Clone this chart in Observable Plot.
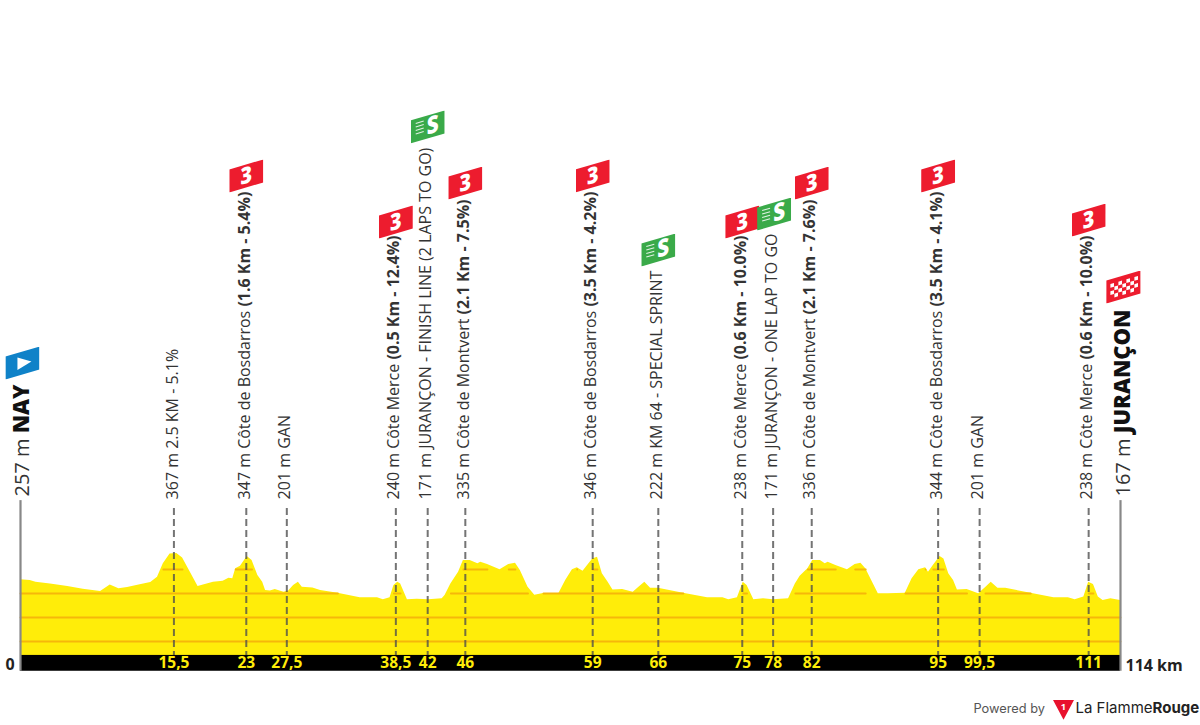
<!DOCTYPE html>
<html>
<head>
<meta charset="utf-8">
<style>
html,body{margin:0;padding:0;background:#fff;overflow:hidden}
svg{display:block}
</style>
<script src="https://cdn.jsdelivr.net/npm/d3@7"></script>
<script src="https://cdn.jsdelivr.net/npm/@observablehq/plot@0.6"></script>
</head>
<body>
<div id="chart"></div>
<script>
const profileKm = [0,1.0,1.6,3.1,4.9,6.5,8.3,9.3,10.2,11.1,12.4,13.5,14.2,14.8,15.5,16.2,16.8,17.6,18.4,20.0,21.0,21.6,22.0,22.3,22.8,23.5,24.0,24.6,25.1,25.4,25.9,26.4,27.3,27.8,28.3,28.8,29.2,30.3,31.1,32.9,35.2,37.0,37.6,38.3,38.7,39.1,39.4,40.1,41.1,42.3,43.7,44.0,44.6,45.4,45.9,46.6,47.4,47.7,48.4,49.7,50.6,51.3,51.8,52.6,53.3,54.2,55.8,56.5,57.2,57.7,58.3,59.3,59.8,60.3,60.9,61.4,62.4,63.5,64.0,64.7,65.3,66.1,68.7,71.2,72.8,73.4,74.3,74.9,75.3,76.0,77.0,78.0,79.6,80.3,80.8,81.6,82.1,82.9,83.4,83.7,84.5,85.7,86.5,87.1,87.6,88.9,89.9,91.7,92.4,93.1,93.8,94.1,94.6,95.3,95.7,96.2,96.7,97.1,98.1,99.3,100.0,100.6,101.3,102.1,104.7,107.1,108.6,109.3,110.2,110.7,111.2,111.7,112.2,113.0,114];
const profileElev = [257,254,247,240,229,218,208,235,220,225,236,246,268,324,365,367,348,289,229,247,251,264,261,303,314,354,338,275,247,212,210,217,205,210,233,247,226,223,212,201,182,182,174,182,233,247,240,174,176,174,178,192,240,289,337,337,324,330,321,299,321,326,296,226,193,200,200,254,299,307,293,344,351,282,247,215,217,205,223,247,222,222,201,182,182,174,182,247,233,174,178,174,178,240,272,303,337,337,324,330,317,299,321,326,303,199,199,201,261,299,307,289,317,354,344,282,254,215,217,199,224,247,222,222,201,182,182,174,185,247,237,185,171,178,171];
const gridElev = [0,100,200,300];
const bandTop = -58, bandBottom = -124;

const markerKm = [15.9,23.4,27.6,38.9,42.2,46.1,59.3,66.1,74.8,78.0,82.0,95.1,99.4,110.7];
const markerKmLabels = ["15,5","23","27,5","38,5","42","46","59","66","75","78","82","95","99,5","111"];
const markerPlain = ["367 m 2.5 KM - 5.1%","347 m Côte de Bosdarros ","201 m GAN","240 m Côte Merce ","171 m JURANÇON - FINISH LINE (2 LAPS TO GO)","335 m Côte de Montvert ","346 m Côte de Bosdarros ","222 m KM 64 - SPECIAL SPRINT","238 m Côte Merce ","171 m JURANÇON - ONE LAP TO GO","336 m Côte de Montvert ","344 m Côte de Bosdarros ","201 m GAN","238 m Côte Merce "];
const markerBold = ["","(1.6 Km - 5.4%)","","(0.5 Km - 12.4%)","","(2.1 Km - 7.5%)","(3.5 Km - 4.2%)","","(0.6 Km - 10.0%)","","(2.1 Km - 7.6%)","(3.5 Km - 4.1%)","","(0.6 Km - 10.0%)"];

const flagKm =    [23.4,38.9,42.2,46.1,59.3,66.1,74.8,78.1,82.0,95.1,110.7];
const flagLevel = [1940,1748,2144,1910,1940,1631,1748,1781,1910,1940,1756];
const flagKind =  ["climb","climb","sprint","climb","climb","sprint","climb","sprint","climb","climb","climb"];

const startKm = 0, finishKm = 114;
const startTexts = ["257 m ","NAY"], finishTexts = ["167 m ","JURANÇON"];

const svgUri = s => "data:image/svg+xml;utf8," + encodeURIComponent(`<svg xmlns="http://www.w3.org/2000/svg" viewBox="0 0 34 33">${s}</svg>`);
const shape = c => `<polygon points="0,10 34,0 34,23 0,33" fill="${c}"/>`;
const glyph = (t,size,cx,cy) => `<text x="0" y="0" transform="translate(${cx} ${cy}) skewY(-16) scale(.86 1)" text-anchor="middle" font-family="Open Sans" font-weight="800" font-size="${size}" fill="#fff">${t}</text>`;
const checks = (() => {
  let s = "";
  for (let i = 0; i < 7; i++) for (let j = 0; j < 4; j++) if ((i + j) % 2 === 0) {
    const x = 4 + i * 4;
    const y = 13.5 - i * 1.18 + j * 3.6;
    s += `<polygon points="${x},${y} ${x+3.6},${y-1.05} ${x+3.6},${y+2.7} ${x},${y+3.75}" fill="#fff"/>`;
  }
  return s;
})();
const icons = {
  climb: svgUri(shape("#ed1c2e") + glyph("3", 23, 17, 24)),
  sprint: svgUri(shape("#3aaa49") + glyph("S", 24, 22, 22.5) +
    `<g stroke="#fff" stroke-width="1.1" opacity=".85"><line x1="5" y1="13" x2="13" y2="10.6"/><line x1="5" y1="16.5" x2="13" y2="14.1"/><line x1="5" y1="20" x2="13" y2="17.6"/><line x1="5" y1="23.5" x2="13" y2="21.1"/></g>`),
  start: svgUri(shape("#0f82c8") + `<polygon points="12,11 26,15 12,23.5" fill="#fff"/>`),
  finish: svgUri(shape("#ed1c2e") + checks),
  logo: svgUri(`<polygon points="0,1 34,1 17,33" fill="#e8112d"/><text x="17" y="18" text-anchor="middle" font-family="Open Sans" font-weight="700" font-size="15" fill="#fff">1</text>`)
};

const profile = profileKm.map((km, i) => ({km, elev: profileElev[i]}));
const markers = markerKm.map((km, i) => ({km, tick: markerKmLabels[i], plain: markerPlain[i], bold: markerBold[i]}));
const flags = flagKm.map((km, i) => ({km, level: flagLevel[i], src: icons[flagKind[i]]}));
const ends = [
  {km: 0.2, parts: startTexts},
  {km: 114.3, parts: finishTexts}
];

const FONT = "'Open Sans', sans-serif";
const plot = Plot.plot({
  width: 1200, height: 725,
  marginTop: 0, marginRight: 0, marginBottom: 0, marginLeft: 0,
  style: {fontFamily: FONT, background: "#fff", overflow: "visible"},
  x: {domain: [0, 114], range: [20, 1120], axis: null},
  y: {domain: [0, 100], range: [641, 617], axis: null},
  marks: [
    Plot.area(profile, {x1: "km", y1: () => bandTop, y2: "elev", fill: "#ffed09", curve: "linear"}),
    ...gridElev.map(g => Plot.line(profile, {
      x: "km", y: d => d.elev >= g ? g : NaN, stroke: "#f6b70a", strokeWidth: 1.8
    })),
    Plot.rect([0], {x1: () => 0, x2: () => 114, y1: () => bandTop, y2: () => bandBottom, fill: "#000"}),
    Plot.ruleX([startKm, finishKm], {y1: () => 587, y2: () => bandBottom, stroke: "#888", strokeWidth: 2.2}),
    Plot.ruleX(markers, {x: "km", y1: () => 554, y2: () => bandTop, stroke: "#4d4d4d", strokeOpacity: 0.78, strokeWidth: 2, strokeDasharray: "7 4"}),
    Plot.text(markers, {
      x: "km", y: () => 592, dx: -1.5, text: "plain", rotate: -90, textAnchor: "start",
      fontSize: 16, fill: "#333", className: "marker-label"
    }),
    Plot.text(markers, {
      x: "km", y: () => (bandTop + bandBottom) / 2, text: "tick", fontSize: 15.5,
      fontWeight: 700, fill: "#ffed09"
    }),
    Plot.text(ends, {
      x: "km", y: () => 604, text: d => d.parts[0], rotate: -90, textAnchor: "start",
      fontSize: 20, fill: "#333", className: "end-label"
    }),
    Plot.text(["0"], {frameAnchor: "top-left", lineAnchor: "middle", dx: 5, dy: 664, text: d => d, fontSize: 16, fontWeight: 700, fill: "#222", textAnchor: "start"}),
    Plot.text(["114 km"], {frameAnchor: "top-left", lineAnchor: "middle", dx: 1125, dy: 665, text: d => d, fontSize: 16, fontWeight: 700, fill: "#222", textAnchor: "start"}),
    Plot.image(flags, {x: "km", y: "level", src: "src", width: 34, height: 33}),
    Plot.image([{km: 0.2, level: 1160}], {x: "km", y: "level", src: () => icons.start, width: 34, height: 33}),
    Plot.image([{km: 114.3, level: 1477}], {x: "km", y: "level", src: () => icons.finish, width: 36, height: 33}),
    Plot.text(["Powered by"], {frameAnchor: "top-left", lineAnchor: "middle", dx: 973, dy: 708, text: d => d, fontSize: 12.8, fill: "#555", textAnchor: "start", fontFamily: "Inter"}),
    Plot.image([0], {frameAnchor: "top-left", dx: 1063, dy: 709, src: () => icons.logo, width: 21, height: 21}),
    Plot.text(["La Flamme"], {frameAnchor: "top-left", lineAnchor: "middle", dx: 1075, dy: 708, text: d => d, fontSize: 15, fill: "#222", textAnchor: "start", fontFamily: "Inter", className: "brand"})
  ]
});

// Mixed-weight lines: append the bold part of each label as a tspan on the library's own text.
const ns = "http://www.w3.org/2000/svg";
const addSpan = (node, text, attrs) => {
  const t = document.createElementNS(ns, "tspan");
  t.textContent = text;
  for (const k in attrs) t.setAttribute(k, attrs[k]);
  node.appendChild(t);
};
d3.select(plot).selectAll(".marker-label text").each(function(_, i) {
  if (markerBold[i]) addSpan(this, markerBold[i], {"font-weight": 700});
});
d3.select(plot).selectAll(".end-label text").each(function(_, i) {
  addSpan(this, ends[i].parts[1], {"font-weight": 800, "font-size": 22, fill: "#111"});
});
d3.select(plot).selectAll(".brand text").each(function() {
  addSpan(this, "Rouge", {"font-weight": 700});
});
document.getElementById("chart").appendChild(plot);
</script>
</body>
</html>
